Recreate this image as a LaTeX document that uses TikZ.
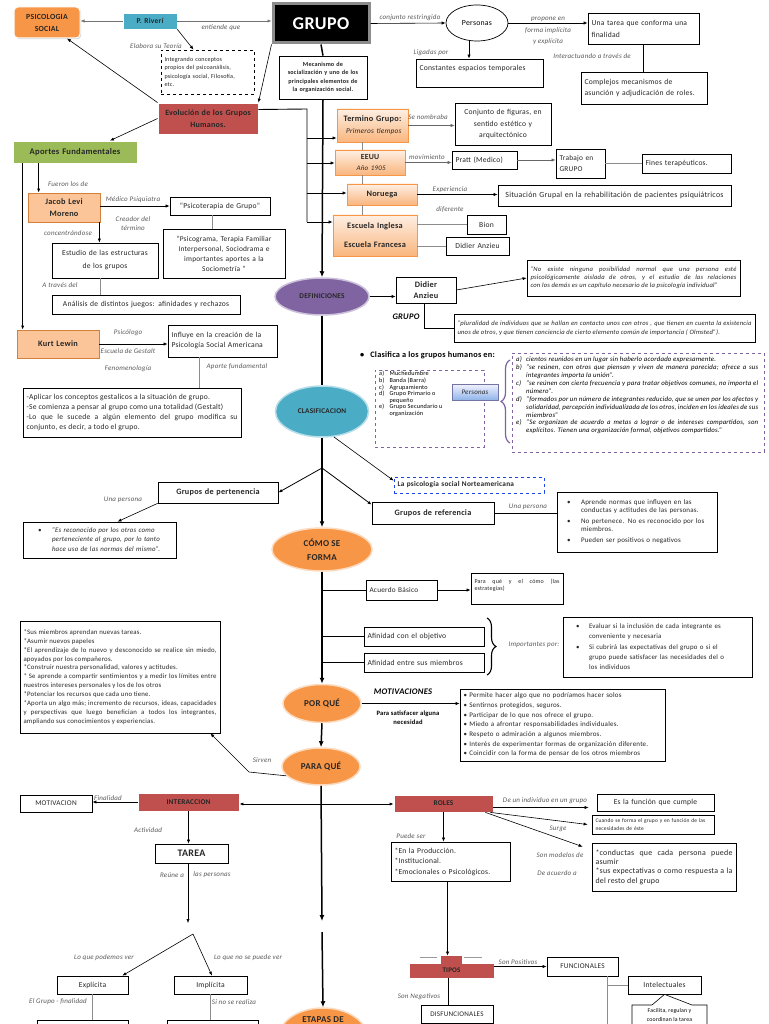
\documentclass[tikz,border=0pt]{standalone}
\usepackage{fontspec}
\setmainfont{Carlito}[LetterSpace=3]
\usetikzlibrary{arrows.meta,shapes.geometric,shapes.callouts,shadows,decorations.pathreplacing}
\definecolor{cOrange}{HTML}{F79646}
\definecolor{cBlue}{HTML}{4BACC6}
\definecolor{cRed}{HTML}{C0504D}
\definecolor{cGreen}{HTML}{9BBB59}
\definecolor{cPurple}{HTML}{8064A2}
\hyphenpenalty=10000
\exhyphenpenalty=10000
\tolerance=9000
\emergencystretch=8pt
\newcommand\fsz[2]{\fontsize{#1}{#2}\selectfont}
\newcommand\mybox[7]{%
  \pgfmathsetmacro\bxcx{(#2+#4)/2}%
  \pgfmathsetmacro\bxcy{(#3+#5)/2}%
  \pgfmathsetmacro\bxw{#4-#2}%
  \pgfmathsetmacro\bxh{#5-#3}%
  \pgfmathsetmacro\bxtw{#4-#2-7}%
  \node[#6, minimum width=\bxw pt, minimum height=\bxh pt, text width=\bxtw pt] (#1) at (\bxcx,\bxcy) {#7};}
\tikzset{
  shad/.style={drop shadow={opacity=0.3,shadow xshift=1.2pt,shadow yshift=-1.2pt}},
  bx/.style={draw=black, line width=0.7pt, fill=white, inner xsep=2pt, inner ysep=1pt, align=center, font=\fsz{7.6}{9}, text=black!85},
  bxl/.style={bx, align=left},
  bxj/.style={bx, align=justify},
  lab/.style={font=\fsz{7}{8}\itshape, text=black!65, inner sep=0pt, align=center},
  arr/.style={-{Latex[length=4pt,width=3.2pt]}, line width=0.6pt},
  sarr/.style={-{Latex[length=6pt,width=5pt]}, line width=1.5pt},
  gl/.style={line width=0.9pt, draw=black!45},
  spine/.style={line width=1.5pt},
  obox/.style={bx, top color=cOrange!15, bottom color=cOrange!70, draw=cOrange, font=\bfseries\fsz{8.3}{12}},
  pbox/.style={bx, fill=cOrange!55, draw=cOrange!85!black, font=\bfseries\fsz{8.3}{12}},
  rbox/.style={bx, fill=cRed, draw=white, line width=0.8pt, shad, font=\bfseries\fsz{7.5}{8.5}},
  ell/.style={ellipse, inner sep=0pt, align=center, font=\bfseries\fsz{9}{14.5}, text=black!85, line width=1.5pt},
}
\begin{document}
\begin{tikzpicture}[x=1pt,y=-1pt]
\useasboundingbox (0,0) rectangle (768,1024);
\fill[white] (0,0) rectangle (768,1024);

% ---------------- top ----------------
\mybox{psico}{14}{7}{80}{38}{bx, fill=cOrange, draw=white, line width=1pt, rounded corners=4pt, shad, font=\bfseries\fsz{7.8}{12}}{PSICOLOGIA\\SOCIAL}
\mybox{riveri}{123}{13}{177}{29}{bx, fill=cBlue, draw=white, shad, font=\bfseries\fsz{7.5}{8}}{P. Riverí}
\mybox{grupo}{273}{4}{369}{43}{bx, fill=black, draw=black!45, line width=3pt, text=white, font=\bfseries\fsz{18}{19}}{GRUPO}
\draw[arr, draw=black!55] (riveri.west) -- (riveri.west -| psico.east);
\draw[arr, draw=black!55] (riveri.east) -- (riveri.east -| grupo.west);
\node[lab] (l1) at (221,28) {entiende que};
\node[lab] (l2) at (156,46) {Elabora su Teoría};
\mybox{dashb}{161}{50}{254}{94}{bxl, dashed, line width=0.8pt, font=\fsz{6.1}{8.3}}{Integrando conceptos\\propios del psicoanálisis,\\psicología social, Filosofía,\\etc.}
\draw[arr] (riveri.south east) -- ([xshift=-14pt]dashb.north);
\mybox{meca}{279}{56}{367}{99}{bx, font=\bfseries\fsz{6.2}{8.4}}{Mecanismo de\\socialización y uno de los\\principales elementos de\\la organización social.}
\mybox{evol}{158}{103}{258}{134}{rbox, font=\bfseries\fsz{8}{11.5}}{Evolución de los Grupos\\Humanos.}
\mybox{aportes}{13}{141}{137}{163}{bx, fill=cGreen, draw=white, shad, font=\bfseries\fsz{8.6}{9}}{Aportes Fundamentales}
\draw[arr] (evol.north west) -- ([xshift=20pt]psico.south);
\draw[arr] (grupo.south west) -- (evol.north east);
\draw[arr] (evol.west) -- ([xshift=35pt]aportes.north);
\draw[spine] (grupo.south) -- (meca.north);

% evolucion branch
\coordinate (eb1) at (307,109);
\coordinate (eb2) at (307,222);
\draw[line width=0.9pt] ([yshift=9pt]evol.east) -- (eb1) -- (eb2);
\mybox{termino}{337}{109}{408}{142}{obox}{Termino Grupo:\\\textmd{\itshape\fsz{7.3}{12} Primeros tiempos}}
\mybox{eeuu}{335}{150}{405}{175}{obox, font=\bfseries\fsz{7.8}{11}}{EEUU\\\textmd{\itshape\fsz{7}{11} Año 1905}}
\mybox{noruega}{347}{184}{417}{205}{obox}{Noruega}
\mybox{escuela}{333}{215}{417}{256}{obox, font=\bfseries\fsz{8.3}{19}}{Escuela Inglesa\\Escuela Francesa}
\coordinate (t1) at (307,138); \draw[arr] (t1) -- (t1 -| termino.west);
\coordinate (t2) at (307,163); \draw[arr] (t2) -- (t2 -| eeuu.west);
\coordinate (t3) at (307,193); \draw[arr] (t3) -- (t3 -| noruega.west);
\coordinate (t4) at (307,222); \draw[arr] (t4) -- (t4 -| escuela.west);
\draw[gl] ([xshift=-10.5pt]termino.south) -- ([xshift=-8pt]eeuu.north);
\draw[gl] ([xshift=-8pt]eeuu.south) -- ([xshift=-20pt]noruega.north);
\draw[gl] ([xshift=-20pt]noruega.south) -- ([xshift=-13pt]escuela.north);

% top right
\node[lab] (l3) at (410,18) {conjunto restringido};
\node[ellipse, draw, line width=0.7pt, minimum width=62pt, minimum height=36pt, inner sep=0pt, font=\fsz{7.8}{8}] (personas) at (477,23) {Personas};
\draw[arr] (grupo.east) -- (personas.west);
\mybox{tarea1}{588}{13}{699}{44}{bxl, font=\fsz{7.6}{12}}{Una tarea que conforma una\\finalidad}
\draw[arr] (personas.east) -- (personas.east -| tarea1.west);
\node[lab, font=\fsz{7}{11.5}\itshape] (l4) at (548,31) {propone en\\forma implícita\\y explícita};
\node[lab] (l5) at (431,53) {Ligadas por};
\mybox{const}{416}{59}{543}{87}{bxl, font=\fsz{7.6}{10}}{Constantes espacios temporales\\\mbox{}}
\coordinate (p1) at ([xshift=-8pt]personas.south);
\draw[arr] (p1) -- (p1 |- const.north);
\node[lab] (l6) at (592,56) {Interactuando a través de};
\mybox{complejos}{581}{72}{707}{104}{bxl, font=\fsz{7.6}{10.5}}{Complejos mecanismos de\\asunción y adjudicación de roles.}
\draw[line width=0.8pt] (tarea1.south) -- (tarea1.south |- complejos.north);
\node[lab] (l7) at (428,117) {Se nombraba};
\mybox{conjunto}{455}{103}{551}{145}{bx, font=\fsz{7.6}{11.5}}{Conjunto de figuras, en\\sentido estético y\\arquitectónico}
\draw[arr, draw=black!60] (termino.east) -- (termino.east -| conjunto.west);
\node[lab] (l8) at (427,157) {movimiento};
\mybox{pratt}{452}{151}{517}{169}{bxl}{Pratt (Medico)}
\draw[arr, draw=black!60] (eeuu.east) -- (eeuu.east -| pratt.west);
\mybox{trabajo}{556}{149}{605}{178}{bxl, font=\fsz{7.4}{11}}{Trabajo en\\GRUPO}
\draw[arr, draw=black!60] (pratt.east) -- (pratt.east -| trabajo.west);
\mybox{fines}{642}{154}{731}{173}{bxl}{Fines terapéuticos.}
\draw[gl] (fines.west -| trabajo.east) -- (fines.west);
\node[lab] (l9) at (450,190) {Experiencia};
\node[lab] (l10) at (450,209) {diferente};
\mybox{situacion}{498}{185}{731}{206}{bx, font=\fsz{7.9}{8}}{Situación Grupal en la rehabilitación de pacientes psiquiátricos}
\draw[arr] (noruega.east) -- (noruega.east -| situacion.west);
\mybox{bion}{467}{215}{506}{234}{bx}{Bion}
\mybox{didier1}{446}{237}{509}{255}{bx}{Didier Anzieu}
\draw[gl] (bion.west -| escuela.east) -- (bion.west);
\draw[gl] (didier1.west -| escuela.east) -- (didier1.west);

% ---------------- left column ----------------
\node[lab] (l11) at (68,184) {Fueron los de};
\mybox{jacob}{28}{193}{100}{222}{pbox}{Jacob Levi\\Moreno}
\mybox{kurt}{17}{330}{99}{358}{pbox}{Kurt Lewin}
\coordinate (j1) at ([xshift=11pt]jacob.north west);
\draw[arr, line width=0.8pt] (j1 |- aportes.south) -- (j1);
\coordinate (k1) at ([xshift=6pt]kurt.north west);
\draw[arr, line width=0.8pt] (k1 |- aportes.south) -- (k1);
\node[lab] (l12) at (133,200) {Médico Psiquiatra};
\mybox{psicot}{170}{197}{270}{215}{bx}{“Psicoterapia de Grupo”}
\draw[arr] (jacob.east |- psicot.west) -- (psicot.west);
\node[lab, font=\fsz{7}{9}\itshape] (l13) at (133,224) {Creador del\\término};
\node[lab] (l14) at (68,233) {concentrándose};
\mybox{estudio}{52}{243}{158}{278}{bx, font=\fsz{7.6}{13}}{Estudio de las estructuras\\de los grupos}
\mybox{psicog}{163}{229}{285}{278}{bx, font=\fsz{7.4}{10}}{“Psicograma, Terapia Familiar\\Interpersonal, Sociodrama e\\importantes aportes a la\\Sociometría ”}
\coordinate (pg1) at ([xshift=-8pt]psicot.south);
\draw[gl] (pg1) -- (pg1 |- psicog.north);
\coordinate (j2) at ([xshift=-1pt]jacob.south east);
\draw[arr] (j2) -- (j2 |- estudio.north);
\node[lab] (l15) at (60,285) {A través del};
\mybox{analisis}{52}{295}{240}{314}{bx}{Análisis de distintos juegos: afinidades y rechazos}
\coordinate (e1) at ([xshift=-5pt]estudio.south);
\draw[gl] (e1) -- (e1 |- analisis.north);
\node[lab] (l16) at (128,333) {Psicólogo};
\node[lab] (l17) at (128,351) {Escuela de Gestalt};
\node[lab] (l18) at (128,369) {Fenomenología};
\mybox{influye}{168}{325}{277}{357}{bxl, font=\fsz{7.6}{10}}{Influye en la creación de la\\Psicología Social Americana}
\draw[arr] (kurt.east) -- (kurt.east -| influye.west);
\node[lab] (l19) at (237,367) {Aporte fundamental};
\mybox{aplicar}{23}{388}{241}{437}{bxj, font=\fsz{7.6}{10.3}}{-Aplicar los conceptos gestalicos a la situación de grupo.\\-Se comienza a pensar al grupo como una totalidad (Gestalt)\\-Lo que le sucede a algún elemento del grupo modifica su conjunto, es decir, a todo el grupo.}
\coordinate (i1) at ([xshift=-23.5pt]influye.south);
\draw[gl] (i1) -- (i1 |- aplicar.north);

% ---------------- definiciones ----------------
\node[ell, fill=cPurple, draw=cPurple!40, minimum width=94pt, minimum height=37pt, font=\bfseries\fsz{7.3}{8}] (defin) at (322,296.5) {DEFINICIONES};
\draw[sarr] (meca.south) -- (defin.north);
\mybox{didier2}{396}{277}{456}{303}{bx, font=\bfseries\fsz{8.3}{10.5}}{Didier\\Anzieu}
\draw[arr] (defin.east) -- (defin.east -| didier2.west);
\node[font=\bfseries\itshape\fsz{8.5}{9}, inner sep=0pt] (grupolab) at (406,317) {GRUPO};
\mybox{quote1}{527}{260}{740}{296}{bxj, font=\itshape\fsz{6.6}{8}}{“No existe ninguna posibilidad normal que una persona esté psicológicamente aislada de otros, y el estudio de las relaciones con los demás es un capítulo necesario de la psicología  individual”}
\draw[arr] (didier2.east) -- (quote1.west);
\mybox{quote2}{454}{314}{755}{342}{bxj, font=\itshape\fsz{6.6}{8.5}}{“pluralidad de individuos que se hallan en contacto unos con otros , que tienen en cuenta la existencia unos de otros, y que tienen conciencia de cierto elemento común de importancia ( Olmsted”).}
\coordinate (d1) at ([xshift=-2pt]didier2.south);
\draw[line width=0.7pt] (d1) |- (quote2.west);

% ---------------- clasificacion ----------------
\node[ell, fill=cBlue, draw=cBlue!40, minimum width=93pt, minimum height=51pt, font=\bfseries\fsz{7.3}{8}] (clasif) at (322,411.5) {CLASIFICACION};
\draw[spine] (defin.south) -- (clasif.north);
\node[font=\bfseries\fsz{8.3}{9}, inner sep=0pt, anchor=west] (clasifica) at (360,355) {\textbullet\hspace{6pt}Clasifica a los grupos humanos en:};
\mybox{clsleft}{375}{370}{484}{447}{bx, draw=cPurple, dashed, line width=0.7pt}{}
\node[anchor=north west, inner sep=0pt, font=\fsz{6.2}{6.6}, align=left] (clslist) at (379,371) {\begin{tabular}{@{}l@{\hspace{5pt}}l@{}}a) & Muchedumbre\\ b) & Banda (Barra)\\ c) & Agrupamiento\\ d) & Grupo Primario o\\ & pequeño\\ e) & Grupo Secundario u\\ & organización\end{tabular}};
\mybox{personas2}{452}{384}{498}{400}{bx, top color=blue!5, bottom color=blue!30!cBlue!55, draw=blue!35!black!55, font=\itshape\fsz{7}{7}}{Personas}
\draw[cPurple, line width=1.2pt, decorate, decoration={brace, amplitude=9pt}] (510,443) -- (510,360);
\mybox{clsright}{512}{353}{764}{452}{bx, draw=cPurple, dashed, line width=0.7pt}{}
\node[anchor=north west, inner sep=0pt, font=\itshape\fsz{6.8}{7.9}, align=left] (clsdesc) at (516,356) {\begin{tabular}{@{}p{10pt}@{}p{232pt}@{}}a) & cientos  reunidos en un lugar sin haberlo acordado expresamente.\\ b) & “se reúnen, con otros que piensan y viven de manera parecida; ofrece a sus integrantes importa la unión”.\\ c) & “se reúnen con cierta frecuencia y para tratar objetivos comunes, no importa el número”.\\ d) & “formados por un número de integrantes  reducido, que se unen por los afectos y solidaridad, percepción individualizada de los otros, inciden en los ideales de sus miembros”\\ e) & “Se organizan de acuerdo a metas a lograr o de intereses compartidos, son explícitos. Tienen una organización formal, objetivos compartidos.”\end{tabular}};
\mybox{norte}{394}{477}{544}{493}{bxl, draw=blue!60!cBlue, dashed, font=\bfseries\fsz{7.3}{8}}{La psicología social  Norteamericana}
\draw[arr] (clasif.295) -- ([yshift=-4pt]norte.north west);
\coordinate (cb) at (322,468);
\draw[spine] (clasif.south) -- (cb);
\mybox{pert}{158}{482}{278}{503}{bx, font=\bfseries\fsz{8.2}{9}}{Grupos de pertenencia}
\mybox{ref}{372}{502}{494}{524}{bx, font=\bfseries\fsz{8.2}{9}}{Grupos de referencia}
\draw[arr, line width=0.8pt] (cb) -- (pert.east);
\draw[arr, line width=0.8pt] (cb) -- ([yshift=-3pt]ref.north west);
\node[lab] (l20) at (123,500) {Una persona};
\mybox{pquote}{23}{522}{176}{558}{bx, font=\itshape\fsz{6.9}{9.7}}{\begin{tabular}{@{}p{17pt}@{}p{112pt}@{}}\hspace{3pt}\textbullet & “Es reconocido por los otros como perteneciente al grupo, por lo tanto hace uso de las normas del mismo”.\end{tabular}}
\draw[arr] (pert.south west) -- ([xshift=18pt]pquote.north);
\node[lab] (l21) at (528,507) {Una persona};
\mybox{refb}{557}{492}{717}{552}{bx, font=\fsz{7}{8}}{\begin{tabular}{@{}p{14pt}@{}p{126pt}@{}}\textbullet & Aprende normas que influyen en las conductas  y actitudes de las personas.\\[3pt] \textbullet & No pertenece. No es reconocido por los miembros.\\[3pt] \textbullet & Pueden ser positivos o negativos\end{tabular}}
\draw[line width=0.7pt] (ref.east) -- (ref.east -| refb.west);

% ---------------- como se forma ----------------
\node[ell, fill=cOrange, draw=cOrange!35, minimum width=100pt, minimum height=43pt] (como) at (322,549.5) {CÓMO SE\\FORMA};
\draw[sarr] (cb) -- (como.north);
\coordinate (sp) at (322,0);
\mybox{acuerdo}{366}{580}{437}{600}{bxl, font=\fsz{7.3}{8}}{Acuerdo Básico}
\draw[line width=0.7pt] (acuerdo.west -| sp) -- (acuerdo.west);
\mybox{paraq}{471}{573}{563}{604}{bxj, font=\fsz{6}{7.5}}{Para qué y el cómo (las estrategias)\\\mbox{}}
\draw[arr] (acuerdo.east) -- (acuerdo.east -| paraq.west);
\mybox{afin1}{364}{627}{484}{646}{bxl}{Afinidad con el objetivo}
\mybox{afin2}{364}{653}{484}{672}{bxl}{Afinidad entre sus miembros}
\draw[line width=0.7pt] (afin1.west -| sp) -- (afin1.west);
\draw[line width=0.7pt] (afin2.west -| sp) -- (afin2.west);
\draw[decorate, decoration={brace, amplitude=9pt}, line width=1.1pt] (487,618) -- (487,675);
\node[lab] (l22) at (534,645) {Importantes por:};
\mybox{evaluar}{563}{617}{752}{677}{bx, font=\fsz{6.9}{10.3}}{\begin{tabular}{@{}p{13pt}@{}p{150pt}@{}}\textbullet & Evaluar si la inclusión de cada integrante es conveniente y necesaria\\ \textbullet & Si cubrirá las expectativas del grupo o si el grupo puede satisfacer las necesidades del o los individuos\end{tabular}}
\mybox{bigbox}{20}{621}{220}{733}{bxj, font=\fsz{6.8}{8.9}}{*Sus miembros aprendan nuevas tareas.\\{}*Asumir nuevos papeles\\{}*El aprendizaje de lo nuevo y desconocido se realice sin miedo, apoyados por los compañeros.\\{}*Construir nuestra personalidad, valores y actitudes.\\{}* Se aprende a compartir sentimientos y a medir los límites entre nuestros intereses personales y los de los otros\\{}*Potenciar los recursos que cada uno tiene.\\{}*Aporta un algo más; incremento de recursos, ideas, capacidades y perspectivas que luego benefician a todos los integrantes, ampliando sus conocimientos y experiencias.}

% ---------------- por que / para que ----------------
\node[ell, fill=cOrange, draw=cOrange!35, minimum width=78pt, minimum height=38pt] (porque) at (322,703.5) {POR QUÉ};
\draw[sarr] (como.south) -- (porque.north);
\node[font=\bfseries\itshape\fsz{8.6}{9}, inner sep=0pt] (motlab) at (403,692) {MOTIVACIONES};
\node[font=\bfseries\fsz{6.6}{8.8}, inner sep=0pt, align=center] (motlab2) at (408,717.5) {Para satisfacer alguna\\necesidad};
\mybox{motbox}{460}{689}{665}{761}{bxl, font=\fsz{7}{9.7}}{\textbullet{} Permite hacer algo que no podríamos hacer solos\\\textbullet{} Sentirnos protegidos, seguros.\\\textbullet{} Participar de lo que nos ofrece el grupo.\\\textbullet{} Miedo a afrontar responsabilidades individuales.\\\textbullet{} Respeto o admiración a algunos miembros.\\\textbullet{} Interés de experimentar formas de organización diferente.\\\textbullet{} Coincidir con la forma de pensar de los otros miembros}
\draw[arr] (porque.east) -- (porque.east -| motbox.west);
\node[ell, fill=cOrange, draw=cOrange!35, minimum width=78pt, minimum height=37pt] (paraque) at (321,766.5) {PARA QUÉ};
\draw[sarr] (porque.south) -- (paraque.north);
\coordinate (sv) at (249,772);
\draw[arr] (paraque.195) -- (sv) -- ([xshift=-10pt]bigbox.south east);
\node[lab] (l23) at (262,760) {Sirven};
\coordinate (send) at (322,921);
\coordinate (sstart) at (322,932);
\draw[sarr] (paraque.south) -- (send);
\coordinate (hj) at (322,804);

% ---------------- interaccion ----------------
\mybox{interac}{138}{793}{239}{811}{rbox, font=\bfseries\fsz{7.3}{8}}{INTERACCION}
\mybox{motiv}{20}{795}{92}{812}{bx, font=\fsz{7.3}{8}}{MOTIVACION}
\draw[arr, line width=0.8pt] (hj) -- (hj -| interac.east);
\draw[arr] (interac.west) -- (interac.west -| motiv.east);
\node[lab] (l24) at (108,798) {Finalidad};
\node[lab] (l25) at (148,830) {Actividad};
\mybox{tarea}{155}{844}{228}{863}{bx, font=\bfseries\fsz{10}{11}}{TAREA}
\draw[arr] (interac.south) -- (interac.south |- tarea.north);
\node[lab] (l26) at (172,875) {Reúne a};
\node[lab] (l27) at (212,875) {las personas};
\coordinate (tend) at (188,923);
\draw[arr] (tend |- tarea.south) -- (tend);
\coordinate (tapex) at (193,934);
\mybox{explicita}{57}{976}{128}{994}{bx}{Explícita}
\mybox{implicita}{174}{976}{247}{994}{bx}{Implícita}
\draw[arr] (tapex) -- ([xshift=-6pt]explicita.north east);
\draw[arr] (tapex) -- ([xshift=1.5pt]implicita.north);
\node[lab] (l28) at (104,958) {Lo que podemos ver};
\node[lab] (l29) at (248,958) {Lo que no se puede ver};
\node[lab] (l30) at (58,1002) {El Grupo - finalidad};
\node[lab] (l31) at (234,1002) {Si no se realiza};
\mybox{bot1}{37}{1020}{128}{1050}{bx}{}
\mybox{bot2}{167}{1020}{258}{1050}{bx}{}
\draw[gl] (explicita.south) -- (explicita.south |- bot1.north);
\draw[gl] (implicita.south) -- (implicita.south |- bot2.north);

% ---------------- etapas ----------------
\node[ell, fill=cOrange, draw=cOrange!35, minimum width=88pt, minimum height=58pt] (etapas) at (323,1037) {};
\node[font=\bfseries\fsz{9}{10}, text=black!85, inner sep=0pt] (etapastxt) at (323,1020) {ETAPAS DE};
\draw[sarr] (sstart) -- (etapas.north);

% ---------------- roles ----------------
\mybox{roles}{394}{795}{493}{812}{rbox, font=\bfseries\fsz{7.3}{8}}{ROLES}
\draw[arr, line width=0.8pt] (hj) -- (hj -| roles.west);
\node[lab] (l32) at (545,801) {De un individuo en un grupo};
\mybox{esfuncion}{597}{794}{714}{811}{bx}{Es la función  que cumple}
\draw[arr] ([yshift=-4pt]roles.east) -- ([yshift=-5pt,xshift=-8pt]esfuncion.west);
\mybox{cuando}{592}{815}{714}{834}{bxl, inner xsep=1pt, font=\fsz{5.5}{7.5}}{Cuando se forma el grupo y en función de las\\necesidades de éste}
\draw[arr] ([xshift=-3pt]roles.south east) -- ([xshift=-4pt]cuando.west);
\node[lab] (l33) at (558,829) {Surge};
\mybox{conductas}{592}{843}{736}{891}{bxj, font=\fsz{7.9}{9.3}}{*conductas que cada persona puede asumir\\{}*sus expectativas o como respuesta a la del resto del grupo}
\draw[arr] ([xshift=-8pt]roles.south east) -- ([xshift=-9pt,yshift=-4pt]conductas.north west);
\node[lab] (l34) at (560,855) {Son modelos de};
\node[lab] (l35) at (557,873) {De acuerdo a};
\node[lab] (l36) at (411,836) {Puede ser};
\mybox{prod}{391}{842}{510}{881}{bxl, font=\fsz{7.6}{10.5}}{*En la Producción.\\{}*Institucional.\\{}*Emocionales o Psicológicos.}
\draw[arr] (roles.south) -- (roles.south |- prod.north);

% ---------------- tipos ----------------
\mybox{tipos}{409}{963}{494}{978}{rbox, font=\bfseries\fsz{7}{8}}{TIPOS}
\mybox{tipostab}{441}{956}{462}{964}{bx, fill=cRed, draw=none}{}
\draw[black!40, line width=1.3pt] (tipostab.north west) ++(-21,1.5) -- ++(17,0);
\draw[black!40, line width=1.3pt] (tipostab.north east) ++(2,1.5) -- ++(18,0);
\coordinate (pr1) at ([xshift=-3pt]prod.south);
\draw[arr] (pr1) -- (pr1 |- tipostab.north);
\node[lab] (l37) at (518,962) {Son Positivos};
\mybox{funcional}{547}{957}{618}{976}{bx, font=\fsz{7.3}{8}}{FUNCIONALES}
\draw[arr] (funcional.west -| tipos.east) -- (funcional.west);
\node[lab] (l38) at (419,997) {Son Negativos};
\mybox{disf}{421}{1005}{493}{1023}{bx, font=\fsz{7.1}{8}}{DISFUNCIONALES}
\coordinate (ti1) at ([xshift=-3pt]tipos.south);
\draw[line width=0.8pt] (ti1) -- (ti1 |- disf.north);
\mybox{intel}{628}{976}{701}{994}{bx}{Intelectuales}
\coordinate (fv) at ([xshift=24.5pt]funcional.south);
\coordinate (fvend) at (607,1030);
\draw[gl] (fv) -- (fvend);
\draw[gl] (fv |- intel.west) -- (intel.west);
\node[rectangle callout, draw, line width=0.6pt, fill=white, minimum width=75pt, minimum height=28pt, inner sep=1pt, align=center, font=\fsz{5.8}{9}, callout absolute pointer={(intel.south)}, callout pointer width=40pt] (facil) at (669.5,1019) {Facilita, regulan y\\coordinan la tarea\\\mbox{}};
\end{tikzpicture}
\end{document}
